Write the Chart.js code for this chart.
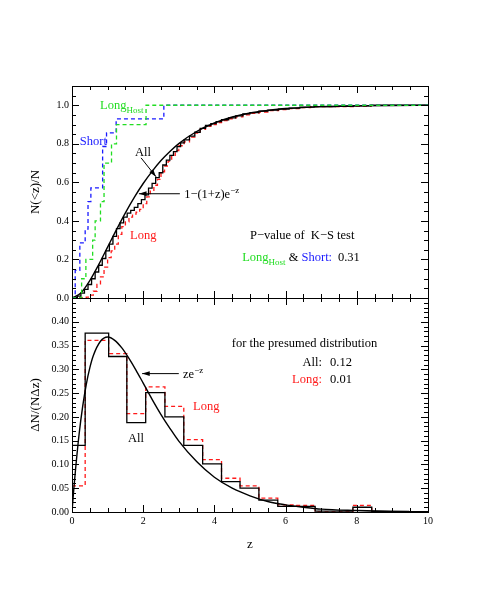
<!DOCTYPE html>
<html lang="en">
<head>
<meta charset="UTF-8">
<title>Redshift distribution</title>
<script src="https://cdn.jsdelivr.net/npm/chart.js"></script>
<style>
  body { margin: 0; background: #fff; }
  #wrap { position: relative; width: 498px; height: 598px; }
  #wrap canvas { position: absolute; left: 0; top: 0; }
</style>
</head>
<body>
<div id="wrap">
  <canvas id="cdf" width="498" height="598"></canvas>
  <canvas id="hist" width="498" height="598"></canvas>
</div>
<script>
// ---------- top panel: cumulative fraction N(<z)/N ----------
const modelZ   = [0, 0.25, 0.5, 0.75, 1, 1.25, 1.5, 1.75, 2, 2.25, 2.5, 2.75, 3, 3.5, 4, 4.5, 5, 5.5, 6, 7, 8, 9, 10];
const modelCdf = [0, 0.026, 0.090, 0.173, 0.264, 0.355, 0.442, 0.522, 0.594, 0.657, 0.713, 0.760, 0.801, 0.864, 0.908, 0.939, 0.960, 0.973, 0.983, 0.993, 0.997, 0.999, 1.0];

const allZ   = [0, 0.05, 0.15, 0.25, 0.35, 0.45, 0.55, 0.65, 0.75, 0.85, 0.95, 1.05, 1.15, 1.25, 1.35, 1.45, 1.55, 1.65, 1.75, 1.85, 1.95, 2.05, 2.15, 2.25, 2.35, 2.45, 2.55, 2.65, 2.75, 2.85, 2.95, 3.05, 3.15, 3.3, 3.45, 3.6, 3.75, 3.9, 4.05, 4.2, 4.4, 4.6, 4.8, 5.0, 5.25, 5.5, 5.8, 6.1, 6.4, 6.8, 7.4, 7.9, 8.4, 10];
const allCdf = [0, 0.003, 0.01, 0.025, 0.045, 0.07, 0.10, 0.135, 0.17, 0.205, 0.245, 0.28, 0.32, 0.36, 0.39, 0.42, 0.44, 0.455, 0.47, 0.49, 0.51, 0.535, 0.57, 0.595, 0.625, 0.65, 0.69, 0.715, 0.74, 0.76, 0.785, 0.805, 0.82, 0.84, 0.86, 0.88, 0.895, 0.905, 0.915, 0.925, 0.935, 0.945, 0.955, 0.962, 0.97, 0.975, 0.98, 0.985, 0.99, 0.993, 0.995, 0.997, 1.0, 1.0];

const longZ   = [0, 0.4, 0.5, 0.6, 0.7, 0.8, 0.9, 1.0, 1.1, 1.2, 1.3, 1.4, 1.5, 1.6, 1.7, 1.8, 1.9, 2.0, 2.1, 2.2, 2.3, 2.4, 2.5, 2.6, 2.7, 2.8, 2.9, 3.0, 3.15, 3.3, 3.45, 3.6, 3.75, 3.9, 4.05, 4.2, 4.4, 4.6, 4.8, 5.0, 5.25, 5.5, 5.8, 6.1, 6.4, 6.7, 7.9, 8.4, 10];
const longCdf = [0, 0.005, 0.015, 0.035, 0.07, 0.11, 0.16, 0.21, 0.245, 0.28, 0.33, 0.37, 0.395, 0.42, 0.435, 0.445, 0.46, 0.49, 0.525, 0.555, 0.585, 0.615, 0.655, 0.685, 0.71, 0.74, 0.765, 0.79, 0.81, 0.835, 0.855, 0.875, 0.89, 0.9, 0.91, 0.92, 0.93, 0.94, 0.95, 0.958, 0.965, 0.972, 0.978, 0.983, 0.988, 0.993, 0.996, 1.0, 1.0];

const shortZ   = [0, 0.09, 0.22, 0.37, 0.45, 0.53, 0.86, 0.97, 1.24, 2.58, 10];
const shortCdf = [0, 0.143, 0.286, 0.357, 0.5, 0.571, 0.786, 0.857, 0.929, 1.0, 1.0];

const hostZ   = [0, 0.27, 0.39, 0.58, 0.65, 0.8, 0.9, 1.11, 1.25, 2.08, 10];
const hostCdf = [0, 0.1, 0.2, 0.3, 0.4, 0.5, 0.7, 0.8, 0.9, 1.0, 1.0];

// ---------- bottom panel: differential ΔN/(NΔz) ----------
const binEdges = [0, 0.37, 1.03, 1.54, 2.07, 2.61, 3.14, 3.67, 4.2, 4.72, 5.25, 5.78, 6.3, 6.83, 7.36, 7.89, 8.42, 8.94, 9.47];
const allHist  = [0.14, 0.376, 0.327, 0.188, 0.251, 0.20, 0.14, 0.101, 0.064, 0.05, 0.025, 0.012, 0.012, 0.002, 0.002, 0.01, 0.001, 0.001];
const longHist = [0.055, 0.361, 0.333, 0.207, 0.263, 0.222, 0.152, 0.11, 0.071, 0.055, 0.029, 0.015, 0.014, 0, 0, 0.014, 0, 0];

const pdfZ   = [0, 0.05, 0.1, 0.2, 0.3, 0.4, 0.5, 0.6, 0.8, 1.0, 1.2, 1.4, 1.6, 1.8, 2.0, 2.25, 2.5, 2.75, 3.0, 3.5, 4, 4.5, 5, 5.5, 6, 6.5, 7, 8, 9, 10];
const pdfVal = [0, 0.048, 0.090, 0.164, 0.222, 0.268, 0.303, 0.329, 0.359, 0.368, 0.361, 0.345, 0.323, 0.298, 0.271, 0.237, 0.205, 0.176, 0.149, 0.106, 0.073, 0.050, 0.034, 0.022, 0.015, 0.010, 0.006, 0.003, 0.001, 0.0005];

const FONT = "'Liberation Serif', 'Times New Roman', serif";
const GREEN = '#22dd22', BLUE = '#1a1aff', RED = '#ff1a1a';

const zip = (xs, ys) => xs.map((x, i) => ({x: x, y: ys[i]}));
// histogram: one point per bin at its left edge, plus the closing edge
const histPoints = (vals) => zip(binEdges, vals.concat([vals[vals.length - 1]]));

// inward ticks on all four sides + frame
const frameTicks = {
  id: 'frameTicks',
  afterDatasetsDraw(chart, args, opts) {
    const {ctx, chartArea: a, scales: {x, y}} = chart;
    const major = (v, step) => Math.abs(v / step - Math.round(v / step)) < 1e-6;
    ctx.save();
    ctx.strokeStyle = '#000';
    ctx.lineWidth = 1;
    ctx.beginPath();
    for (let i = 0; ; i++) {
      const v = x.min + i * opts.xMinor;
      if (v > x.max + 1e-9) break;
      const px = Math.round(x.getPixelForValue(v)) + 0.5;
      const len = major(v, opts.xMajor) ? 7 : 4;
      ctx.moveTo(px, a.top); ctx.lineTo(px, a.top + len);
      ctx.moveTo(px, a.bottom); ctx.lineTo(px, a.bottom - len);
    }
    for (let i = 0; ; i++) {
      const v = y.min + i * opts.yMinor;
      if (v > y.max + 1e-9) break;
      const py = Math.round(y.getPixelForValue(v)) + 0.5;
      const len = major(v, opts.yMajor) ? 7 : 4;
      ctx.moveTo(a.left, py); ctx.lineTo(a.left + len, py);
      ctx.moveTo(a.right, py); ctx.lineTo(a.right - len, py);
    }
    ctx.stroke();
    ctx.strokeRect(Math.round(a.left) + 0.5, Math.round(a.top) + 0.5, Math.round(a.width), Math.round(a.height));
    ctx.restore();
  }
};

// text with sub/superscript pieces: parts = [[text, color, 'sub'|'sup'|undefined], ...]
function rich(ctx, x, y, parts, align) {
  const size = 12.5, small = 9;
  const fontOf = p => (p[2] ? small : size) + 'px ' + FONT;
  let w = 0;
  parts.forEach(p => { ctx.font = fontOf(p); w += ctx.measureText(p[0]).width; });
  let cx = align === 'right' ? x - w : x;
  ctx.textAlign = 'left';
  ctx.textBaseline = 'alphabetic';
  parts.forEach(p => {
    ctx.font = fontOf(p);
    ctx.fillStyle = p[1] || '#000';
    const dy = p[2] === 'sub' ? 3.5 : p[2] === 'sup' ? -5 : 0;
    ctx.fillText(p[0], cx, y + dy);
    cx += ctx.measureText(p[0]).width;
  });
}

function arrow(ctx, x1, y1, x2, y2) {
  const ang = Math.atan2(y2 - y1, x2 - x1);
  ctx.save();
  ctx.strokeStyle = '#000';
  ctx.fillStyle = '#000';
  ctx.lineWidth = 1;
  ctx.beginPath();
  ctx.moveTo(x1, y1);
  ctx.lineTo(x2, y2);
  ctx.stroke();
  ctx.beginPath();
  ctx.moveTo(x2, y2);
  ctx.lineTo(x2 - 8 * Math.cos(ang - 0.3), y2 - 8 * Math.sin(ang - 0.3));
  ctx.lineTo(x2 - 8 * Math.cos(ang + 0.3), y2 - 8 * Math.sin(ang + 0.3));
  ctx.closePath();
  ctx.fill();
  ctx.restore();
}

const px = (chart, z, v) => [chart.scales.x.getPixelForValue(z), chart.scales.y.getPixelForValue(v)];

const notesTop = {
  id: 'notesTop',
  afterDraw(chart) {
    const ctx = chart.ctx;
    ctx.save();
    rich(ctx, ...px(chart, 0.79, 0.98), [['Long', GREEN], ['Host', GREEN, 'sub']]);
    rich(ctx, ...px(chart, 0.22, 0.794), [['Short', BLUE]]);
    rich(ctx, ...px(chart, 1.77, 0.737), [['All']]);
    arrow(ctx, ...px(chart, 1.94, 0.727), ...px(chart, 2.36, 0.629));
    rich(ctx, ...px(chart, 3.15, 0.52), [['1\u2212(1+z)e'], ['\u2212z', '#000', 'sup']]);
    arrow(ctx, ...px(chart, 3.03, 0.541), ...px(chart, 1.88, 0.541));
    rich(ctx, ...px(chart, 1.63, 0.304), [['Long', RED]]);
    rich(ctx, ...px(chart, 5.0, 0.304), [['P\u2212value of  K\u2212S test']]);
    rich(ctx, ...px(chart, 4.78, 0.19), [['Long', GREEN], ['Host', GREEN, 'sub'], [' & '], ['Short:', BLUE]]);
    rich(ctx, ...px(chart, 7.47, 0.19), [['0.31']]);
    ctx.restore();
  }
};

const notesBottom = {
  id: 'notesBottom',
  afterDraw(chart) {
    const ctx = chart.ctx;
    ctx.save();
    rich(ctx, ...px(chart, 4.49, 0.348), [['for the presumed distribution']]);
    rich(ctx, ...px(chart, 7.02, 0.306), [['All:']], 'right');
    rich(ctx, ...px(chart, 7.25, 0.306), [['0.12']]);
    rich(ctx, ...px(chart, 7.02, 0.272), [['Long:', RED]], 'right');
    rich(ctx, ...px(chart, 7.25, 0.272), [['0.01']]);
    rich(ctx, ...px(chart, 3.12, 0.282), [['ze'], ['\u2212z', '#000', 'sup']]);
    arrow(ctx, ...px(chart, 3.0, 0.291), ...px(chart, 1.97, 0.291));
    rich(ctx, ...px(chart, 3.4, 0.215), [['Long', RED]]);
    rich(ctx, ...px(chart, 1.57, 0.147), [['All']]);
    ctx.restore();
  }
};

const lineStyle = (color, dashed, width) => ({
  borderColor: color,
  borderWidth: width,
  borderDash: dashed ? [4, 3] : [],
  pointRadius: 0,
  fill: false
});

const tickFont = {family: FONT, size: 10};
const titleFont = {family: FONT, size: 13};

function baseOptions(yMin, yMax, yStep, yDigits, tickCfg, showX) {
  return {
    responsive: false,
    animation: false,
    events: [],
    layout: {padding: tickCfg.pad},
    plugins: {legend: {display: false}, tooltip: {enabled: false}, frameTicks: tickCfg},
    scales: {
      x: {
        type: 'linear', min: 0, max: 10,
        grid: {display: false, drawTicks: false},
        border: {display: false},
        ticks: {display: showX, stepSize: 2, color: '#000', font: tickFont, padding: 3, maxRotation: 0},
        title: {display: showX, text: 'z', color: '#000', font: titleFont, padding: {top: 3, bottom: 0}},
        afterFit: s => { s.height = showX ? 40 : 0; }
      },
      y: {
        type: 'linear', min: yMin, max: yMax,
        grid: {display: false, drawTicks: false},
        border: {display: false},
        ticks: {
          stepSize: yStep, includeBounds: false, color: '#000', font: tickFont, padding: 3,
          callback: v => (v > yMax - yStep / 2 + 1e-9 ? '' : v.toFixed(yDigits))
        },
        title: {display: true, text: tickCfg.yTitle, color: '#000', font: titleFont, padding: {top: 28, bottom: 0}},
        afterFit: s => { s.width = 72; }
      }
    }
  };
}

new Chart(document.getElementById('cdf'), {
  type: 'line',
  data: {
    datasets: [
      Object.assign({data: zip(hostZ, hostCdf), stepped: 'before'}, lineStyle(GREEN, true, 1.3)),
      Object.assign({data: zip(shortZ, shortCdf), stepped: 'before'}, lineStyle(BLUE, true, 1.3)),
      Object.assign({data: zip(modelZ, modelCdf), cubicInterpolationMode: 'monotone'}, lineStyle('#000', false, 1.4)),
      Object.assign({data: zip(allZ, allCdf), stepped: 'before'}, lineStyle('#000', false, 1.3)),
      Object.assign({data: zip(longZ, longCdf), stepped: 'before'}, lineStyle(RED, true, 1.3))
    ]
  },
  options: baseOptions(0, 1.1, 0.2, 1,
    {xMinor: 0.5, xMajor: 2, yMinor: 0.05, yMajor: 0.2, yTitle: 'N(<z)/N',
     pad: {left: 0, right: 70, top: 86, bottom: 300}}, false),
  plugins: [frameTicks, notesTop]
});

new Chart(document.getElementById('hist'), {
  type: 'line',
  data: {
    datasets: [
      Object.assign({data: zip(pdfZ, pdfVal), cubicInterpolationMode: 'monotone'}, lineStyle('#000', false, 1.4)),
      Object.assign({data: histPoints(allHist), stepped: 'before'}, lineStyle('#000', false, 1.3)),
      Object.assign({data: histPoints(longHist), stepped: 'before'}, lineStyle(RED, true, 1.3))
    ]
  },
  options: baseOptions(0, 0.45, 0.05, 2,
    {xMinor: 0.5, xMajor: 2, yMinor: 0.01, yMajor: 0.05, yTitle: '\u0394N/(N\u0394z)',
     pad: {left: 0, right: 70, top: 298, bottom: 46}}, true),
  plugins: [frameTicks, notesBottom]
});
</script>
</body>
</html>
